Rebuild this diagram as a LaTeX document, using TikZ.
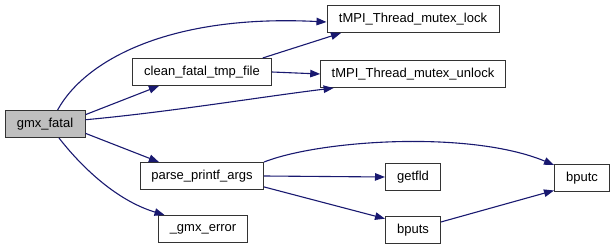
\documentclass[tikz,border=0pt]{standalone}
\usepackage{fontspec}
\setmainfont{Liberation Sans}
\usetikzlibrary{arrows.meta}

\definecolor{edgeblue}{HTML}{191970}
\definecolor{nodegray}{HTML}{BFBFBF}

\begin{document}
\begin{tikzpicture}[x=1pt,y=-1pt,
    box/.style={draw=black!80,line width=1pt,fill=white,minimum height=27pt,
      inner xsep=11pt,font=\fontsize{13}{15}\selectfont},
    call/.style={draw=edgeblue,line width=1.1pt,
      -{Triangle[length=10pt,width=7.5pt]}}]
  \useasboundingbox (0,0) rectangle (616,251);

  % Nodes
  \node[box,fill=nodegray,minimum width=80pt] (fatal) at (45,124) {gmx\_fatal};
  \node[box,minimum width=139pt] (clean) at (202,72) {clean\_fatal\_tmp\_file};
  \node[box,minimum width=123pt] (parse) at (202,176) {parse\_printf\_args};
  \node[box,minimum width=86pt] (gerror) at (203,229) {\_gmx\_error};
  \node[box,minimum width=172pt] (lock) at (413,19) {tMPI\_Thread\_mutex\_lock};
  \node[box,minimum width=184pt] (unlock) at (413,74) {tMPI\_Thread\_mutex\_unlock};
  \node[box,minimum width=55pt] (getfld) at (413,177) {getfld};
  \node[box,minimum width=55pt] (bputs) at (413,230) {bputs};
  \node[box,minimum width=55pt] (bputc) at (582,178) {bputc};

  % Edges
  \draw[call] (fatal.48) .. controls (85,60) and (170,14) .. (lock.182);
  \draw[call] (fatal.13) -- (clean.198);
  \draw[call] (fatal.6) .. controls (170,112) and (260,97) .. (unlock.190);
  \draw[call] (fatal.-13) -- (parse.162);
  \draw[call] (fatal.-45) .. controls (80,165) and (115,200) .. (gerror.160);
  \draw[call] (clean.13) -- (lock.191);
  \draw[call] (clean.east) -- (unlock.west);
  \draw[call] (parse.north east) .. controls (320,140) and (470,130) .. (bputc.155);
  \draw[call] (parse.east) -- (getfld.west);
  \draw[call] (parse.-10) -- (bputs.158);
  \draw[call] (bputs.16) -- (bputc.204);
\end{tikzpicture}
\end{document}
